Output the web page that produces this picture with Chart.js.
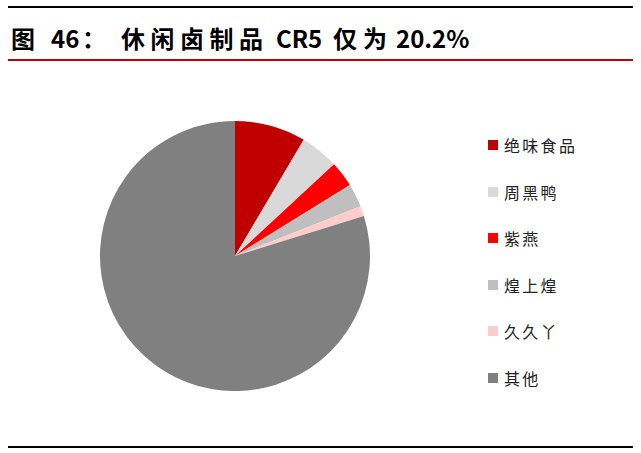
<!DOCTYPE html>
<html>
<head>
<meta charset="utf-8">
<script src="https://cdn.jsdelivr.net/npm/chart.js@4"></script>
<style>
  html,body{margin:0;padding:0;background:#fff;}
  body{width:641px;height:453px;position:relative;overflow:hidden;font-family:"Noto Sans CJK SC","Noto Sans",sans-serif;}
  .line{position:absolute;left:8px;width:625px;}
  #title{position:absolute;left:0;top:18px;width:641px;height:40px;font-size:24px;font-weight:bold;color:#000;white-space:pre;line-height:40px;}
  #title span{position:absolute;top:0;}
  #chartBox{position:absolute;left:100px;top:121px;width:270px;height:270px;}
  #legend{position:absolute;left:488px;top:133px;}
  .item{height:46.6px;display:flex;align-items:flex-start;font-size:16px;color:#222;letter-spacing:2.3px;line-height:24px;}
  .sw{width:10px;height:10px;margin-top:7px;margin-right:6px;}
</style>
</head>
<body>
<div class="line" style="top:6px;height:2px;background:#000;"></div>
<div id="title"><span style="left:11px">图</span><span style="left:51px"> 46</span><span style="left:82px">：</span><span style="left:121px;letter-spacing:5.5px"> 休闲卤制品</span><span style="left:276px"> CR5</span><span style="left:333px;letter-spacing:6px"> 仅为</span><span style="left:396px"> 20.2%</span></div>
<div class="line" style="top:59px;height:2px;background:#c00000;"></div>
<div class="line" style="top:446px;height:2px;background:#000;"></div>
<div id="chartBox"><canvas id="c"></canvas></div>
<div id="legend"></div>
<script>
const categories = ["绝味食品","周黑鸭","紫燕","煌上煌","久久丫","其他"];
const shares = [8.5, 4.6, 3.1, 2.8, 1.2, 79.8];
const colors = ["#c00000","#d9d9d9","#ff0000","#bfbfbf","#ffcccc","#808080"];

// trim leading spaces used only for readability in title spans
document.querySelectorAll('#title span').forEach(s=>{s.textContent=s.textContent.trim();});

const leg = document.getElementById('legend');
categories.forEach((c,i)=>{
  const d=document.createElement('div');d.className='item';
  const s=document.createElement('div');s.className='sw';s.style.background=colors[i];
  const t=document.createElement('span');t.textContent=c;
  d.appendChild(s);d.appendChild(t);leg.appendChild(d);
});

new Chart(document.getElementById('c'),{
  type:'pie',
  data:{labels:categories,datasets:[{data:shares,backgroundColor:colors,borderWidth:0}]},
  options:{
    responsive:true,maintainAspectRatio:false,animation:false,
    layout:{padding:0},
    plugins:{legend:{display:false},tooltip:{enabled:false}}
  }
});
</script>
</body>
</html>
